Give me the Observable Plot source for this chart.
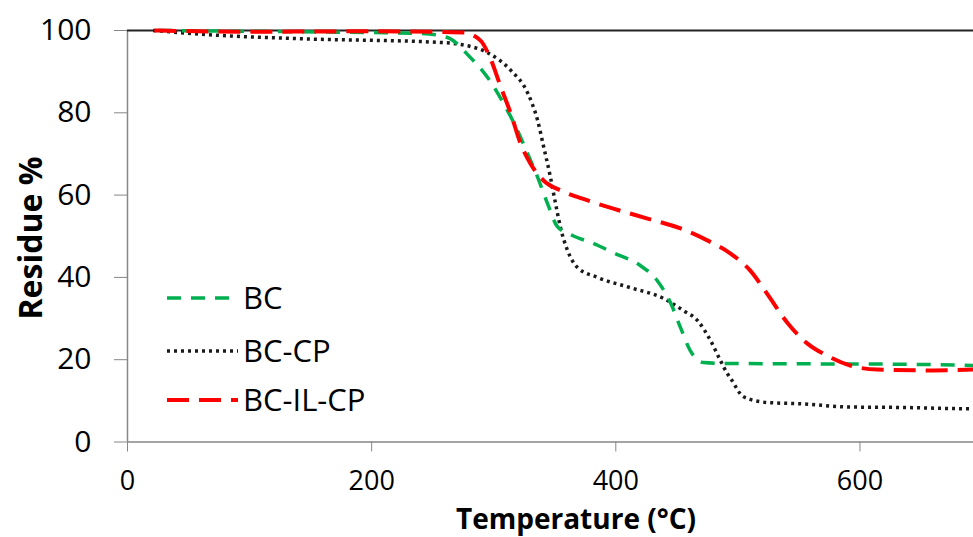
<!DOCTYPE html>
<html>
<head>
<meta charset="utf-8">
<script src="https://cdn.jsdelivr.net/npm/d3@7"></script>
<script src="https://cdn.jsdelivr.net/npm/@observablehq/plot@0.6"></script>
<style>
  html, body { margin: 0; padding: 0; background: #fff; }
  #chart { width: 973px; height: 537px; overflow: hidden; }
</style>
</head>
<body>
<div id="chart"></div>
<script>
const seriesNames = ["BC", "BC-CP", "BC-IL-CP"];
const xTicks = [0, 200, 400, 600];
const yTicks = [0, 20, 40, 60, 80, 100];

// [temperature °C, residue %]
const bc = [[25,100],[100,99.8],[200,99.5],[240,99.3],[262,98.3],[281,93.4],[295,88.6],[308,82.3],[319.5,75.7],[327.7,70.1],[336,64.3],[344,58],[352,52.4],[363,50.4],[382,48.2],[398,46],[420,42.9],[434,39.2],[445,33.7],[453,27.8],[461,22.2],[472,19.3],[488,19.1],[550,19],[633,18.9],[693,18.6]];
const bcCp = [[21,100],[76,98.8],[142,98],[256,97.1],[275,96.5],[295,94.6],[314,90.3],[328,84.7],[336,78.1],[341,71.6],[346.5,64.3],[350.6,58],[354.7,52.1],[360.5,46.5],[368.6,42.4],[385,40],[412,37.5],[439,34.9],[455,32],[467,29.5],[477.5,24.7],[485.7,19.8],[491.4,16.6],[494,15.5],[504.6,11],[524,9.6],[551,9.3],[592,8.5],[633,8.4],[688,8.1],[693,8.1]];
const bcIlCp = [[22,100],[100,99.7],[200,99.8],[275,99.5],[289,97.6],[297,93.4],[306,86.1],[314,79.8],[322,72.5],[330,67.7],[341,63.5],[355,61.1],[377,58.7],[398,56.7],[426,54.3],[453,51.9],[475,49],[494,45.8],[510,41.7],[524,36],[541,28.8],[557,23.9],[573,21],[592,18.6],[614,17.6],[660,17.4],[693,17.6]];

const styles = {
  "BC": {stroke: "#00b050", strokeWidth: 3.5, strokeDasharray: "14,10"},
  "BC-CP": {stroke: "#1a1a1a", strokeWidth: 3.5, strokeDasharray: "3,4"},
  "BC-IL-CP": {stroke: "#ff0000", strokeWidth: 4, strokeDasharray: "22,10"}
};
const seriesData = {"BC": bc, "BC-CP": bcCp, "BC-IL-CP": bcIlCp};
const drawOrder = ["BC-CP", "BC", "BC-IL-CP"];

const plot = Plot.plot({
  width: 973,
  height: 537,
  marginLeft: 127,
  marginRight: 0,
  marginTop: 30,
  marginBottom: 95.5,
  style: {fontFamily: "Open Sans", background: "#fff", overflow: "visible"},
  x: {domain: [0, 693]},
  y: {domain: [0, 100]},
  marks: [
    Plot.axisY(yTicks, {tickSize: 13, tickPadding: 23, fontSize: 30, stroke: "#868686", fill: "#000", label: null}),
    Plot.axisX(xTicks, {tickSize: 10, tickPadding: 19, fontSize: 27, stroke: "#868686", fill: "#000", label: null}),
    Plot.ruleX([0], {stroke: "#868686", strokeWidth: 1.5}),
    Plot.ruleY([0], {stroke: "#868686", strokeWidth: 1.5}),
    Plot.ruleY([100], {stroke: "#222", strokeWidth: 2}),
    ...drawOrder.map(name => Plot.line(seriesData[name], {
      x: d => d[0], y: d => d[1], curve: "monotone-x", strokeLinecap: "butt", ...styles[name]
    }))
  ]
});

const svg = d3.select(plot);

// axis titles
svg.append("text")
  .attr("transform", "translate(42,238) rotate(-90)")
  .attr("text-anchor", "middle")
  .attr("font-family", "Open Sans")
  .attr("font-weight", "bold")
  .attr("font-size", 32)
  .attr("fill", "#000")
  .text("Residue %");

svg.append("text")
  .attr("x", 576)
  .attr("y", 528.5)
  .attr("text-anchor", "middle")
  .attr("font-family", "Open Sans")
  .attr("font-weight", "bold")
  .attr("font-size", 28)
  .attr("fill", "#000")
  .text("Temperature (°C)");

// legend
const legendY = [298, 351, 400];
const lg = svg.append("g");
seriesNames.forEach((name, i) => {
  const s = styles[name];
  lg.append("line")
    .attr("x1", 167).attr("x2", 238)
    .attr("y1", legendY[i]).attr("y2", legendY[i])
    .attr("stroke", s.stroke)
    .attr("stroke-width", s.strokeWidth)
    .attr("stroke-dasharray", s.strokeDasharray);
  lg.append("text")
    .attr("x", 243).attr("y", legendY[i])
    .attr("dy", "0.36em")
    .attr("text-anchor", "start")
    .attr("font-family", "Open Sans")
    .attr("font-size", 31)
    .attr("fill", "#000")
    .text(name);
});

document.getElementById("chart").appendChild(plot);
</script>
</body>
</html>
